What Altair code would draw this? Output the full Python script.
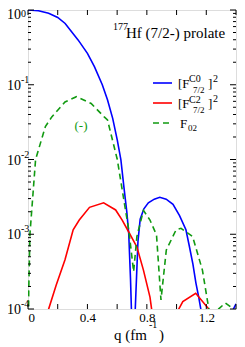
import altair as alt
import pandas as pd

# ---- data (q in fm^-1, values as log10) ----
blue_q = [0.0, 0.07, 0.139, 0.2, 0.25, 0.337, 0.40, 0.447, 0.50, 0.535, 0.57, 0.601, 0.625, 0.645, 0.665, 0.678, 0.69, 0.705,
          0.712, 0.722, 0.74, 0.755, 0.78, 0.81, 0.85, 0.887, 0.93, 0.976, 1.02, 1.063, 1.085, 1.11, 1.13, 1.15, 1.163, 1.18,
          1.37, 1.383, 1.40]
blue_log = [0.0, -0.01, -0.044, -0.10, -0.18, -0.40, -0.58, -0.758, -1.0, -1.2, -1.45, -1.74, -2.0, -2.36, -2.7, -2.99, -3.6, -4.6,
            -4.6, -4.0, -3.1, -2.8, -2.66, -2.58, -2.53, -2.506, -2.53, -2.6, -2.75, -2.94, -3.15, -3.4, -3.65, -3.85, -4.0, -4.4,
            -4.4, -4.0, -3.93]

red_q = [0.12, 0.139, 0.19, 0.249, 0.304, 0.345, 0.414, 0.509, 0.59, 0.634, 0.678, 0.733, 0.777, 0.821, 0.832, 0.85,
         0.99, 1.015, 1.042, 1.129, 1.217, 1.24]
red_log = [-4.5, -4.0, -3.68, -3.34, -2.94, -2.81, -2.64, -2.58, -2.675, -2.81, -2.97, -3.17, -3.48, -3.84, -4.0, -4.5,
           -4.4, -4.0, -3.90, -3.79, -4.0, -4.3]

green_q = [0.002, 0.005, 0.013, 0.051, 0.117, 0.16, 0.249, 0.326, 0.425, 0.513, 0.535, 0.601, 0.645, 0.678, 0.711,
           0.733, 0.777, 0.821, 0.865, 0.895, 0.931, 0.997, 1.03, 1.108, 1.174, 1.217, 1.24,
           1.27, 1.283, 1.328, 1.383, 1.40]
green_log = [-4.5, -3.75, -3.0, -2.0, -1.56, -1.43, -1.23, -1.16, -1.25, -1.43, -1.47, -2.0, -2.54, -2.94, -3.5,
             -3.03, -2.68, -2.81, -3.01, -3.88, -3.21, -2.94, -2.92, -3.03, -3.48, -4.0, -4.3,
             -4.3, -4.0, -3.92, -4.0, -4.2]

x_tick_vals = [0.0, 0.2, 0.4, 0.6, 0.8, 1.0, 1.2, 1.4]
x_label_vals = [0.0, 0.4, 0.8, 1.2]
y_decades = [0.1, 0.01, 0.001, 0.0001]
y_exps = ["-1", "-2", "-3", "-4"]
y_top = [1.0]
y_top_exp = ["0"]
y_minor = [m * d for d in [0.1, 0.01, 0.001, 0.0001] for m in range(2, 10)]

W, H = 208, 299
SERIF = "Liberation Serif"
BLUE, RED, GREEN = "#0000ff", "#ff0000", "#119a11"

xs = alt.Scale(domain=[0, 1.4], nice=False, zero=False)
ys = alt.Scale(type="log", domain=[1e-4, 1], nice=False)


def series_df(q, lg):
    return pd.DataFrame({"q": q, "v": [10 ** v for v in lg]})


def line(q, lg, color, dash=None):
    kw = dict(color=color, strokeWidth=1.6, clip=True)
    if dash:
        kw["strokeDash"] = dash
    return alt.Chart(series_df(q, lg)).mark_line(**kw).encode(
        x=alt.X("q:Q", scale=xs, axis=alt.Axis(values=x_label_vals, ticks=False, domain=False, grid=False,
                                                labelFont=SERIF, labelFontSize=13, labelPadding=2, labelColor="black",
                                                labelExpr="datum.value == 0 ? '0' : format(datum.value, '.1f')",
                                                title=None)),
        y=alt.Y("v:Q", scale=ys, axis=None),
    )


one = alt.Data(values=[{}])


def txt(text, x, y, size, color="black", align="left"):
    return alt.Chart(one).mark_text(text=text, font=SERIF, fontSize=size, color=color, align=align,
                                    baseline="alphabetic").encode(x=alt.value(x), y=alt.value(y))


def seg(x1, x2, y, color, dash=None):
    kw = dict(color=color, strokeWidth=1.6)
    if dash:
        kw["strokeDash"] = dash
    return alt.Chart(one).mark_rule(**kw).encode(x=alt.value(x1), x2=alt.value(x2), y=alt.value(y))


# ticks (inside, mirrored)
xt = pd.DataFrame({"q": x_tick_vals})
x_ticks = alt.layer(
    alt.Chart(xt).mark_rule(color="black", strokeWidth=1).encode(x=alt.X("q:Q", scale=xs), y=alt.value(H), y2=alt.value(H - 5)),
    alt.Chart(xt).mark_rule(color="black", strokeWidth=1).encode(x=alt.X("q:Q", scale=xs), y=alt.value(0), y2=alt.value(5)),
)
yd = pd.DataFrame({"v": y_decades + y_top})
ym = pd.DataFrame({"v": y_minor})
y_ticks = alt.layer(
    alt.Chart(yd).mark_rule(color="black", strokeWidth=1).encode(y=alt.Y("v:Q", scale=ys), x=alt.value(0), x2=alt.value(6)),
    alt.Chart(yd).mark_rule(color="black", strokeWidth=1).encode(y=alt.Y("v:Q", scale=ys), x=alt.value(W), x2=alt.value(W - 6)),
    alt.Chart(ym).mark_rule(color="black", strokeWidth=1).encode(y=alt.Y("v:Q", scale=ys), x=alt.value(0), x2=alt.value(3)),
    alt.Chart(ym).mark_rule(color="black", strokeWidth=1).encode(y=alt.Y("v:Q", scale=ys), x=alt.value(W), x2=alt.value(W - 3)),
)
yl = pd.DataFrame({"v": y_decades, "e": y_exps})
ylt = pd.DataFrame({"v": y_top, "e": y_top_exp})
y_labels = alt.layer(
    alt.Chart(yl).mark_text(text="10", font=SERIF, fontSize=14, align="right", baseline="alphabetic", dy=5, color="black")
    .encode(y=alt.Y("v:Q", scale=ys), x=alt.value(-7)),
    alt.Chart(yl).mark_text(font=SERIF, fontSize=10, align="left", baseline="alphabetic", dy=-2, color="black")
    .encode(y=alt.Y("v:Q", scale=ys), x=alt.value(-7), text="e:N"),
    alt.Chart(ylt).mark_text(text="10", font=SERIF, fontSize=14, align="right", baseline="alphabetic", dy=9, color="black")
    .encode(y=alt.Y("v:Q", scale=ys), x=alt.value(-7)),
    alt.Chart(ylt).mark_text(font=SERIF, fontSize=10, align="left", baseline="alphabetic", dy=7, color="black")
    .encode(y=alt.Y("v:Q", scale=ys), x=alt.value(-7), text="e:N"),
)

annot = alt.layer(
    txt("177", 85, 20, 10),
    txt("Hf (7/2-) prolate", 98, 28, 15),
    txt("(-)", 53, 120, 13, GREEN, "center"),
    # legend
    seg(125, 144, 73, BLUE),
    txt("[F", 150, 78, 13), txt("C0", 161, 72, 10), txt("7/2", 165, 83, 9), txt("]", 180, 78, 13), txt("2", 185, 72, 10),
    seg(125, 144, 93, RED),
    txt("[F", 150, 98, 13), txt("C2", 161, 93, 10), txt("7/2", 165, 103, 9), txt("]", 180, 98, 13), txt("2", 185, 92, 10),
    seg(125, 144, 113, GREEN, [6, 4]),
    txt("F", 152, 118, 13), txt("02", 160, 121, 9),
    # x title
    txt("q (fm", 86, 330, 15), txt("-1", 121, 318, 10), txt(")", 131, 330, 15),
)

chart = alt.layer(
    line(blue_q, blue_log, BLUE),
    line(red_q, red_log, RED),
    line(green_q, green_log, GREEN, [6, 4]),
    x_ticks, y_ticks, y_labels, annot,
).properties(
    width=W, height=H,
    autosize=alt.AutoSizeParams(type="none"),
    padding={"left": 20, "top": 2, "right": 1, "bottom": 38},
).configure_view(stroke="black", strokeWidth=1).configure(background="white")

chart.save("out.html", embed_options={"renderer": "svg", "actions": False})
